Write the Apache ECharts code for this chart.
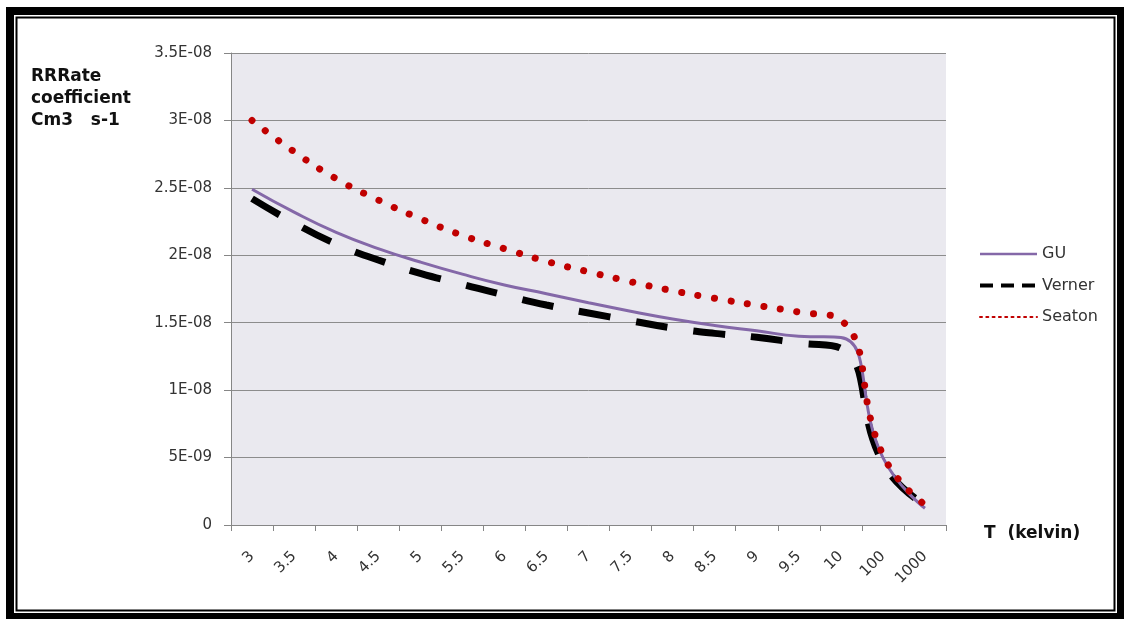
<!DOCTYPE html>
<html><head><meta charset="utf-8">
<script src="https://cdn.jsdelivr.net/npm/echarts@6/dist/echarts.min.js"></script>
<style>html,body{margin:0;padding:0;background:#fff}#c{width:1124px;height:619px}</style>
</head><body><div id="c"></div>
<script>
const categories = ['3','3.5','4','4.5','5','5.5','6','6.5','7','7.5','8','8.5','9','9.5','10','100','1000'];
const guValues = [2.49e-8, 2.32e-8, 2.17e-8, 2.05e-8, 1.95e-8, 1.86e-8, 1.78e-8, 1.715e-8, 1.648e-8, 1.585e-8, 1.528e-8, 1.48e-8, 1.44e-8, 1.40e-8, 1.39e-8, 5.0e-9, 1.24e-9];
const vernerValues = [2.42e-8, 2.24e-8, 2.084e-8, 1.965e-8, 1.866e-8, 1.785e-8, 1.705e-8, 1.631e-8, 1.572e-8, 1.515e-8, 1.461e-8, 1.421e-8, 1.392e-8, 1.35e-8, 1.31e-8, 4.6e-9, 1.5e-9];
const seatonValues = [3.0e-8, 2.768e-8, 2.568e-8, 2.41e-8, 2.271e-8, 2.148e-8, 2.049e-8, 1.955e-8, 1.878e-8, 1.804e-8, 1.737e-8, 1.681e-8, 1.629e-8, 1.579e-8, 1.52e-8, 5.2e-9, 1.5e-9];
const yTickLabels = ['0','5E-09','1E-08','1.5E-08','2E-08','2.5E-08','3E-08','3.5E-08'];
const seriesNames = ['GU','Verner','Seaton'];
const yAxisTitle = 'RRRate\ncoefficient\nCm3   s-1';
const xAxisTitle = 'T  (kelvin)';

const chart = echarts.init(document.getElementById('c'));
const FONT = 'DejaVu Sans';
const hiddenSymbol = {opacity: 0, color: 'transparent', borderWidth: 0};
chart.setOption({
  animation: false,
  backgroundColor: '#fff',
  title: {
    text: yAxisTitle, left: 26, top: 61,
    textStyle: {fontFamily: FONT, fontWeight: 'bold', fontSize: 17, lineHeight: 22, color: '#111'}
  },
  graphic: [
    {type: 'rect', shape: {x: 10, y: 11, width: 1111, height: 606}, style: {fill: 'none', stroke: '#000', lineWidth: 8}, silent: true},
    {type: 'rect', shape: {x: 16.5, y: 17.5, width: 1098, height: 593}, style: {fill: 'none', stroke: '#000', lineWidth: 2}, silent: true}
  ],
  legend: {
    orient: 'vertical', left: 973, top: 241,
    itemWidth: 57, itemHeight: 14, itemGap: 15.5,
    textStyle: {fontFamily: FONT, fontSize: 16, color: '#333'},
    data: [
      {name: seriesNames[0], lineStyle: {width: 2.5, type: 'solid'}, itemStyle: hiddenSymbol},
      {name: seriesNames[1], lineStyle: {width: 4, type: [13, 8]}, itemStyle: hiddenSymbol},
      {name: seriesNames[2], lineStyle: {width: 2, type: [2, 4.3]}, itemStyle: hiddenSymbol}
    ]
  },
  grid: {left: 231, right: 178, top: 53, bottom: 94, show: true, backgroundColor: '#eae9ef', borderWidth: 0},
  xAxis: {
    type: 'category', data: categories, boundaryGap: true,
    name: xAxisTitle, nameLocation: 'end', nameGap: 38,
    nameTextStyle: {fontFamily: FONT, fontWeight: 'bold', fontSize: 17, color: '#111', verticalAlign: 'top', padding: [0, 0, 0, 0]},
    axisLine: {lineStyle: {color: '#868686', width: 1}},
    axisTick: {show: true, interval: 0, length: 6, lineStyle: {color: '#868686'}},
    axisLabel: {interval: 0, rotate: 45, margin: 29, fontFamily: FONT, fontSize: 15, color: '#333'},
    splitLine: {show: false}
  },
  yAxis: {
    type: 'value', min: 0, max: 3.5e-8, interval: 5e-9,
    axisLine: {show: true, lineStyle: {color: '#868686', width: 1}},
    axisTick: {show: true, length: 7, lineStyle: {color: '#868686'}},
    axisLabel: {margin: 19, fontFamily: FONT, fontSize: 15, color: '#333',
      formatter: v => yTickLabels[Math.round(v / 5e-9)] ?? ''},
    splitLine: {show: true, lineStyle: {color: '#8c8c8c', width: 1}}
  },
  series: [
    {name: seriesNames[0], type: 'line', data: guValues, smooth: 0.5, symbol: 'none', z: 3,
     itemStyle: {color: '#8468a8'}, lineStyle: {color: '#8468a8', width: 3}},
    {name: seriesNames[1], type: 'line', data: vernerValues, smooth: 0.5, symbol: 'none', z: 2,
     itemStyle: {color: '#000'}, lineStyle: {color: '#000', width: 7, type: [32, 26], cap: 'butt'}},
    {name: seriesNames[2], type: 'line', data: seatonValues, smooth: 0.5, symbol: 'none', z: 4,
     itemStyle: {color: '#c00000'}, lineStyle: {color: '#c00000', width: 7, type: [0.1, 16.6], cap: 'round'}}
  ]
});
</script>
</body></html>
